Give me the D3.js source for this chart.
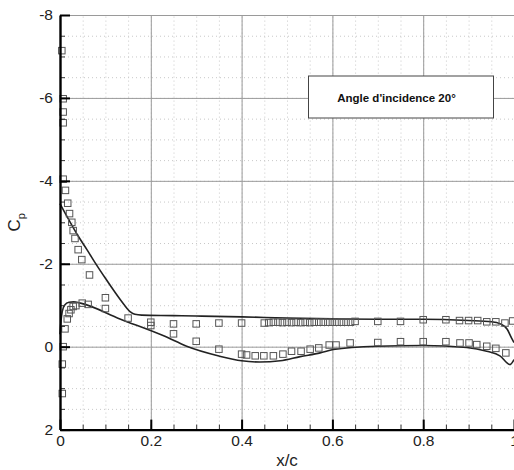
<!DOCTYPE html>
<html><head><meta charset="utf-8">
<script src="https://cdn.jsdelivr.net/npm/d3@7"></script>
<style>body{margin:0;background:#fff}svg{display:block}text{font-family:"Liberation Sans",Arial,sans-serif}</style>
</head><body>
<script>
// Data
const xTicks = [0, 0.2, 0.4, 0.6, 0.8, 1];
const xTickLabels = ["0", "0.2", "0.4", "0.6", "0.8", "1"];
const yTicks = [-8, -6, -4, -2, 0, 2];
const yTickLabels = ["-8", "-6", "-4", "-2", "0", "2"];
const legendText = "Angle d'incidence 20°";

// upper surface (computed, solid line)
const upperX = [0, 0.02, 0.04, 0.06, 0.08, 0.1, 0.12, 0.14, 0.155, 0.165, 0.18, 0.25, 0.3, 0.4, 0.5, 0.6, 0.7, 0.8, 0.9, 0.95, 0.97, 0.985, 0.995, 1.0];
const upperCp = [-3.45, -3.05, -2.67, -2.33, -1.98, -1.65, -1.33, -1.03, -0.84, -0.78, -0.76, -0.75, -0.74, -0.72, -0.69, -0.67, -0.66, -0.66, -0.63, -0.6, -0.55, -0.42, -0.2, -0.1];
// lower surface (computed, solid line)
const lowerX = [0, 0.002, 0.005, 0.01, 0.02, 0.03, 0.045, 0.132, 0.231, 0.279, 0.352, 0.40, 0.44, 0.485, 0.529, 0.573, 0.602, 0.698, 0.80, 0.896, 0.94, 0.969, 0.991, 1.0];
const lowerCp = [-0.3, -0.6, -0.85, -1.0, -1.07, -1.08, -1.05, -0.67, -0.25, -0.01, 0.23, 0.34, 0.37, 0.34, 0.24, 0.15, 0.07, -0.01, -0.03, 0.02, 0.11, 0.22, 0.43, 0.31];
// experiment (squares)
const expX = [0.004, 0.007, 0.007, 0.007, 0.007, 0.012, 0.017, 0.021, 0.026, 0.029, 0.033, 0.040, 0.048, 0.065, 0.100, 0.100, 0.150, 0.200, 0.250, 0.300, 0.350, 0.400,
  0.45, 0.46, 0.47, 0.48, 0.49, 0.50, 0.51, 0.52, 0.53, 0.54, 0.55, 0.56, 0.57, 0.58, 0.59, 0.60, 0.61, 0.62, 0.63, 0.64, 0.65,
  0.70, 0.75, 0.80, 0.85, 0.88, 0.90, 0.92, 0.94, 0.96, 0.98, 0.997,
  0.011, 0.016, 0.020, 0.024, 0.029, 0.035, 0.049, 0.062, 0.007, 0.005, 0.005, 0.200, 0.250, 0.300, 0.350, 0.400, 0.411, 0.430, 0.449, 0.470, 0.491, 0.510, 0.531, 0.551, 0.570, 0.593, 0.608, 0.639,
  0.70, 0.75, 0.80, 0.85, 0.881, 0.901, 0.918, 0.940, 0.960, 0.982];
const expCp = [-7.14, -5.98, -5.66, -5.40, -4.04, -3.77, -3.46, -3.21, -3.00, -2.80, -2.61, -2.34, -2.10, -1.73, -1.18, -0.92, -0.69, -0.59, -0.55, -0.55, -0.57, -0.57,
  -0.57, -0.58, -0.59, -0.59, -0.58, -0.59, -0.58, -0.59, -0.58, -0.59, -0.58, -0.59, -0.59, -0.59, -0.59, -0.59, -0.59, -0.59, -0.59, -0.59, -0.61,
  -0.61, -0.61, -0.65, -0.65, -0.63, -0.63, -0.63, -0.60, -0.60, -0.57, -0.62,
  -0.43, -0.67, -0.80, -0.89, -0.97, -0.99, -1.05, -1.02, 0.0, 0.42, 1.13, -0.51, -0.31, -0.13, 0.06, 0.18, 0.20, 0.22, 0.22, 0.22, 0.18, 0.11, 0.11, 0.06, 0.03, -0.04, -0.04, -0.09,
  -0.10, -0.12, -0.12, -0.12, -0.09, -0.09, -0.05, -0.01, 0.04, 0.15];

const W = 514, H = 470;
const L = 60, R = 514, T = 15, B = 429.6;
const svg = d3.select("body").append("svg").attr("width", W).attr("height", H);
const x = d3.scaleLinear().domain([0, 1]).range([L, R]);
const y = d3.scaleLinear().domain([-8, 2]).range([T, B]);

const xMinor = d3.range(0, 1.0001, 0.05).map(v => +v.toFixed(2));
const yMinor = d3.range(-8, 2.0001, 0.5);

// minor dotted grid
svg.append("g").attr("transform", `translate(0,${B})`)
  .call(d3.axisBottom(x).tickValues(xMinor).tickSize(-(B - T)).tickFormat(""))
  .call(g => g.select(".domain").remove())
  .call(g => g.selectAll("line").attr("stroke", "#c8c8c8").attr("stroke-dasharray", "1,3"));
svg.append("g").attr("transform", `translate(${L},0)`)
  .call(d3.axisLeft(y).tickValues(yMinor).tickSize(-(R - L)).tickFormat(""))
  .call(g => g.select(".domain").remove())
  .call(g => g.selectAll("line").attr("stroke", "#c8c8c8").attr("stroke-dasharray", "1,3"));
// major solid grid
svg.append("g").attr("transform", `translate(0,${B})`)
  .call(d3.axisBottom(x).tickValues(xTicks).tickSize(-(B - T)).tickFormat(""))
  .call(g => g.select(".domain").remove())
  .call(g => g.selectAll("line").attr("stroke", "#9a9a9a").attr("stroke-width", 1));
svg.append("g").attr("transform", `translate(${L},0)`)
  .call(d3.axisLeft(y).tickValues(yTicks).tickSize(-(R - L)).tickFormat(""))
  .call(g => g.select(".domain").remove())
  .call(g => g.selectAll("line").attr("stroke", "#9a9a9a").attr("stroke-width", 1));

// legend box
svg.append("rect").attr("x", 308.5).attr("y", 76).attr("width", 185).attr("height", 42)
  .attr("fill", "#fff").attr("stroke", "#444").attr("stroke-width", 1);
svg.append("text").attr("x", 396.5).attr("y", 102).attr("text-anchor", "middle")
  .attr("font-size", 11.5).attr("font-weight", "bold").attr("fill", "#111").text(legendText);

// lines
const lineGen = d3.line().x(d => x(d[0])).y(d => y(d[1])).curve(d3.curveMonotoneX);
svg.append("path").datum(upperX.map((v, i) => [v, upperCp[i]]))
  .attr("d", lineGen).attr("fill", "none").attr("stroke", "#222").attr("stroke-width", 1.6);
svg.append("path").datum(lowerX.map((v, i) => [v, lowerCp[i]]))
  .attr("d", lineGen).attr("fill", "none").attr("stroke", "#222").attr("stroke-width", 1.6);

// squares
const s = 6.5;
svg.append("g").selectAll("rect").data(expX.map((v, i) => [v, expCp[i]])).join("rect")
  .attr("x", d => x(d[0]) - s / 2).attr("y", d => y(d[1]) - s / 2)
  .attr("width", s).attr("height", s).attr("fill", "none").attr("stroke", "#555").attr("stroke-width", 1);

// axes: minor ticks
svg.append("g").attr("transform", `translate(0,${B})`)
  .call(d3.axisBottom(x).tickValues(xMinor).tickSize(-5).tickFormat(""))
  .call(g => g.select(".domain").remove())
  .call(g => g.selectAll("line").attr("stroke", "#333").attr("stroke-width", 1));
svg.append("g").attr("transform", `translate(${L},0)`)
  .call(d3.axisLeft(y).tickValues(yMinor).tickSize(-5).tickFormat(""))
  .call(g => g.select(".domain").remove())
  .call(g => g.selectAll("line").attr("stroke", "#333").attr("stroke-width", 1));
// major ticks + labels
svg.append("g").attr("transform", `translate(0,${B})`)
  .call(d3.axisBottom(x).tickValues(xTicks).tickSizeInner(-10).tickSizeOuter(0).tickPadding(5.5)
    .tickFormat((d, i) => xTickLabels[i]))
  .call(g => g.select(".domain").attr("stroke", "#000").attr("stroke-width", 2.4))
  .call(g => g.selectAll("line").attr("stroke", "#000").attr("stroke-width", 2))
  .call(g => g.selectAll("text").attr("font-size", 15.5).attr("fill", "#222").attr("font-family", "Liberation Sans, Arial, sans-serif"));
svg.append("g").attr("transform", `translate(${L},0)`)
  .call(d3.axisLeft(y).tickValues(yTicks).tickSizeInner(-10).tickSizeOuter(0).tickPadding(7)
    .tickFormat((d, i) => yTickLabels[i]))
  .call(g => g.select(".domain").attr("stroke", "#000").attr("stroke-width", 2.4))
  .call(g => g.selectAll("line").attr("stroke", "#000").attr("stroke-width", 2))
  .call(g => g.selectAll("text").attr("font-size", 15.5).attr("fill", "#222").attr("font-family", "Liberation Sans, Arial, sans-serif"));

// axis titles
svg.append("text").attr("x", (L + R) / 2).attr("y", 466).attr("text-anchor", "middle")
  .attr("font-size", 17).attr("fill", "#222").text("x/c");
const yt = svg.append("text").attr("transform", `translate(20,${(T + B) / 2}) rotate(-90)`)
  .attr("text-anchor", "middle").attr("font-size", 17).attr("fill", "#222");
yt.append("tspan").text("C");
yt.append("tspan").attr("dy", 5).attr("font-size", 11).text("p");
</script>
</body></html>
